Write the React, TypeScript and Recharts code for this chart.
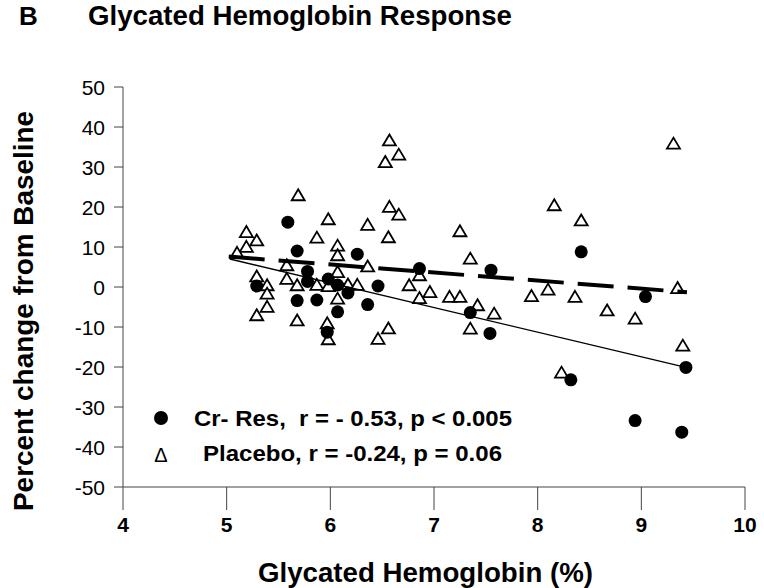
import React from "react";
import { ScatterChart, Scatter, XAxis, YAxis } from "recharts";

// Cr-Res (filled circles): HbA1c (%) and percent change from baseline
const crResX = [5.59, 5.68, 5.78, 5.78, 6.26, 5.29, 5.68, 5.87, 5.98, 6.07, 6.17, 6.07, 5.97, 6.36, 6.46, 6.86, 7.55, 7.35, 7.54, 8.42, 9.04, 9.43, 8.32, 8.94, 9.39];
const crResY = [16.2, 9.0, 3.9, 1.4, 8.2, 0.25, -3.4, -3.25, 2.0, 0.5, -1.5, -6.2, -11.3, -4.4, 0.25, 4.6, 4.2, -6.4, -11.6, 8.8, -2.4, -20.1, -23.2, -33.4, -36.3];

// Placebo (open triangles)
const placeboX = [5.69, 5.98, 5.19, 5.29, 5.87, 6.36, 5.19, 6.07, 6.07, 5.10, 5.58, 6.36, 5.29, 6.07, 5.58, 5.39, 5.68, 5.87, 5.98, 6.17, 6.26, 5.39, 6.07, 5.39, 5.29, 5.68, 5.97, 5.98, 6.46, 6.57, 6.66, 6.53, 6.57, 6.66, 6.56, 7.25, 7.35, 6.86, 6.76, 6.96, 6.86, 7.15, 7.25, 7.42, 7.58, 7.35, 6.56, 9.31, 8.16, 8.42, 8.10, 7.94, 8.36, 8.67, 8.94, 9.35, 9.40, 8.23];
const placeboY = [22.6, 16.6, 13.4, 11.3, 12.0, 15.2, 9.7, 10.0, 7.6, 8.2, 5.1, 4.8, 2.3, 3.4, 1.7, 0.1, 0.1, 0.2, -0.1, 0.3, 0.2, -2.0, -3.25, -5.3, -7.4, -8.7, -9.4, -13.4, -13.3, 36.3, 32.75, 30.9, 19.7, 17.75, 12.1, 13.6, 6.75, 2.6, 0.1, -1.6, -3.1, -2.8, -2.8, -4.9, -7.0, -10.75, -10.7, 35.5, 20.1, 16.3, -1.0, -2.6, -2.8, -6.2, -8.25, -0.6, -15.0, -21.75];

// Regression lines (end points, in data units)
const crResFitX = [5.03, 9.43];
const crResFitY = [7.0, -20.1];
const placeboFitX = [5.02, 9.44];
const placeboFitY = [7.6, -1.3];

const xTicks = [4, 5, 6, 7, 8, 9, 10];
const yTicks = [-50, -40, -30, -20, -10, 0, 10, 20, 30, 40, 50];

const zip = (xs: number[], ys: number[]) => xs.map((x, i) => ({ x, y: ys[i] }));
const crResData = zip(crResX, crResY);
const placeboData = zip(placeboX, placeboY);
const crResFit = zip(crResFitX, crResFitY);
const placeboFit = zip(placeboFitX, placeboFitY);

const FONT = "'Liberation Sans', Arial, Helvetica, sans-serif";

const Dot = (p: any) => <circle cx={p.cx} cy={p.cy} r={6.5} fill="#000" />;
const Tri = (p: any) => {
  const { cx, cy } = p;
  const w = 13;
  const h = 11;
  const d = `M${cx},${cy - (h * 2) / 3} L${cx + w / 2},${cy + h / 3} L${cx - w / 2},${cy + h / 3} Z`;
  return <path d={d} fill="#fff" stroke="#000" strokeWidth={1.8} strokeLinejoin="miter" />;
};
const NoShape = () => <g />;

const XTick = (p: any) => (
  <text x={p.x} y={p.y} dy="0.71em" textAnchor="middle" style={{ fontSize: 21, fontWeight: 700, fontFamily: FONT }} fill="#000">
    {p.payload.value}
  </text>
);
const YTick = (p: any) => (
  <text x={p.x} y={p.y} dy="0.36em" textAnchor="end" style={{ fontSize: 21, fontFamily: FONT }} fill="#000">
    {p.payload.value}
  </text>
);

export default function App() {
  return (
    <div style={{ position: "absolute", left: 0, top: 0, width: 764, height: 588, background: "#fff" }}>
      <ScatterChart width={764} height={588} margin={{ top: 87, right: 19, bottom: 41, left: 63 }}>
        <XAxis
          type="number"
          dataKey="x"
          domain={[4, 10]}
          ticks={xTicks}
          allowDataOverflow
          height={60}
          tickSize={23}
          tickMargin={7}
          axisLine={{ stroke: "#444", strokeWidth: 1 }}
          tickLine={{ stroke: "#444", strokeWidth: 1 }}
          tick={XTick}
        />
        <YAxis
          type="number"
          dataKey="y"
          domain={[-50, 50]}
          ticks={yTicks}
          allowDataOverflow
          width={60}
          tickSize={9}
          tickMargin={9}
          axisLine={{ stroke: "#444", strokeWidth: 1 }}
          tickLine={{ stroke: "#444", strokeWidth: 1 }}
          tick={YTick}
        />
        <Scatter name="Placebo" data={placeboData} shape={Tri} isAnimationActive={false} />
        <Scatter
          name="Placebo fit"
          data={placeboFit}
          shape={NoShape}
          line={{ stroke: "#000", strokeWidth: 4, strokeDasharray: "36 14" }}
          lineType="joint"
          isAnimationActive={false}
        />
        <Scatter
          name="Cr-Res fit"
          data={crResFit}
          shape={NoShape}
          line={{ stroke: "#000", strokeWidth: 1.3 }}
          lineType="joint"
          isAnimationActive={false}
        />
        <Scatter name="Cr- Res" data={crResData} shape={Dot} isAnimationActive={false} />
      </ScatterChart>
      <svg
        width={764}
        height={588}
        style={{ position: "absolute", left: 0, top: 0, pointerEvents: "none" }}
        fontFamily={FONT}
      >
        <text x={19} y={25} fontSize={26} fontWeight="bold" fill="#000">B</text>
        <text x={88} y={25} fontSize={27.5} fontWeight="bold" fill="#000" textLength={424} lengthAdjust="spacingAndGlyphs">
          Glycated Hemoglobin Response
        </text>
        <text
          x={0}
          y={0}
          transform="translate(33,311) rotate(-90)"
          textAnchor="middle"
          fontSize={27}
          fontWeight="bold"
          fill="#000"
          textLength={400}
          lengthAdjust="spacingAndGlyphs"
        >
          Percent change from Baseline
        </text>
        <text x={258} y={582} fontSize={27} fontWeight="bold" fill="#000" textLength={335} lengthAdjust="spacingAndGlyphs">
          Glycated Hemoglobin (%)
        </text>
        <circle cx={161} cy={418} r={7} fill="#000" />
        <text x={194} y={426} fontSize={22} fontWeight="bold" fill="#000" textLength={318} lengthAdjust="spacingAndGlyphs" style={{ whiteSpace: "pre" }}>
          {"Cr- Res,  r = - 0.53, p < 0.005"}
        </text>
        <text x={161} y={462} fontSize={20} fill="#000" textAnchor="middle">Δ</text>
        <text x={203} y={461} fontSize={22} fontWeight="bold" fill="#000" textLength={299} lengthAdjust="spacingAndGlyphs">
          Placebo, r = -0.24, p = 0.06
        </text>
      </svg>
    </div>
  );
}
